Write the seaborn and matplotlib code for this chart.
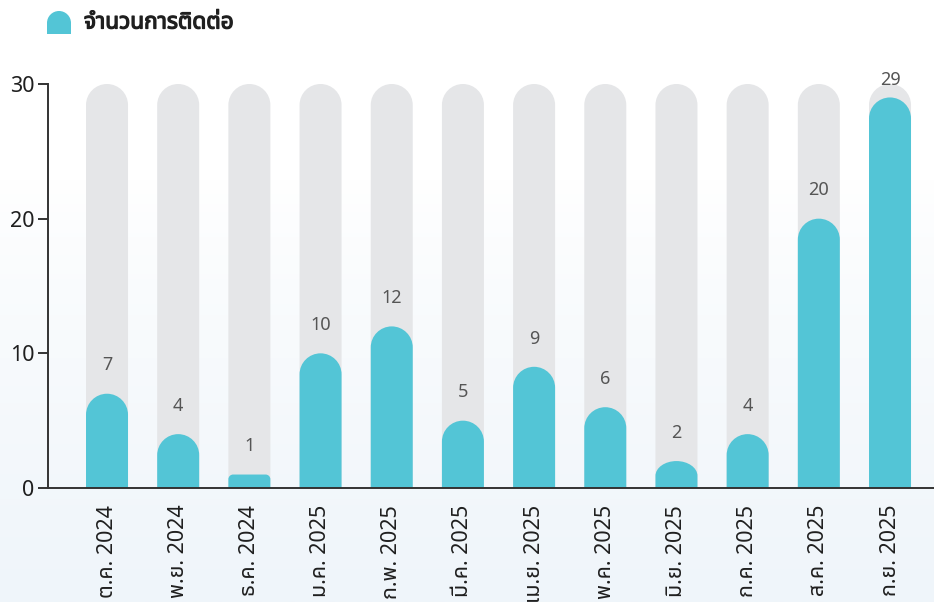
import numpy as np
import pandas as pd
import matplotlib
matplotlib.use("Agg")
import matplotlib.pyplot as plt
import matplotlib.patheffects as pe
from matplotlib import font_manager
from matplotlib.ft2font import FT2Font
from matplotlib.path import Path
from matplotlib.patches import PathPatch
from matplotlib.transforms import IdentityTransform
import seaborn as sns

# Monthly contact counts
months = ["ต.ค. 2024", "พ.ย. 2024", "ธ.ค. 2024", "ม.ค. 2025", "ก.พ. 2025", "มี.ค. 2025",
          "เม.ย. 2025", "พ.ค. 2025", "มิ.ย. 2025", "ก.ค. 2025", "ส.ค. 2025", "ก.ย. 2025"]
contacts = [7, 4, 1, 10, 12, 5, 9, 6, 2, 4, 20, 29]
y_max = 30
y_ticks = [0, 10, 20, 30]
series_name = "จำนวนการติดต่อ"

CYAN = "#53c5d6"
TRACK = "#e5e6e8"
INK = "#1f1f1f"


def pick_thai_font():
    """Return the first installed family that covers Thai script."""
    names = []
    for f in font_manager.fontManager.ttflist:
        try:
            cmap = FT2Font(f.fname).get_charmap()
        except Exception:
            continue
        if 0x0E08 in cmap and 0x0E33 in cmap:
            names.append(f.name)
    for pref in ("Noto Sans Thai", "Noto Sans Thai UI", "Sarabun", "Kanit", "Prompt"):
        if pref in names:
            return pref
    return names[0] if names else None


sns.set_theme(style="white")
thai = pick_thai_font()
families = ([thai] if thai else []) + ["Inter", "DejaVu Sans"]
plt.rcParams["font.family"] = families

W, H, DPI = 934, 602, 100
fig = plt.figure(figsize=(W / DPI, H / DPI), dpi=DPI)

# soft vertical gradient behind everything: white above, pale blue toward the bottom
bg = fig.add_axes([0, 0, 1, 1], zorder=-10)
top_c = np.array([1.0, 1.0, 1.0])
bot_c = np.array([0xef, 0xf5, 0xfa]) / 255
t = np.linspace(0, 1, 512)
t = np.clip((t - 0.3) / 0.7, 0, 1) ** 0.8
grad = top_c * (1 - t[:, None]) + bot_c * t[:, None]
bg.imshow(grad[:, None, :], aspect="auto", extent=[0, 1, 0, 1], interpolation="bilinear")
bg.set_axis_off()

ax_l, ax_r = 48 / W, 1.0
ax_b, ax_t = 1 - 488 / H, 1 - 84 / H
ax = fig.add_axes([ax_l, ax_b, ax_r - ax_l, ax_t - ax_b])
ax.patch.set_alpha(0)

df = pd.DataFrame({"month": months, "contacts": contacts, "track": [y_max] * len(months)})
bar_w = 0.59
sns.barplot(data=df, x="month", y="track", color=TRACK, width=bar_w, saturation=1, ax=ax)
sns.barplot(data=df, x="month", y="contacts", color=CYAN, width=bar_w, saturation=1, ax=ax)

x_lo = -0.829
x_hi = 11.618
ax.set_xlim(x_lo, x_hi)
ax.set_ylim(0, y_max)

# pixel scale of the data axes
ax_w_px = (ax_r - ax_l) * W
ax_h_px = (ax_t - ax_b) * H
px_x = ax_w_px / (x_hi - x_lo)
px_y = ax_h_px / y_max


def rounded_top(x0, w, h):
    """Path for a bar with a semicircular (in pixels) top."""
    rx = w / 2
    ry = rx * px_x / px_y
    if h < ry:
        scale = 0.35 * h / ry
        rx *= scale
        ry *= scale
    elif h < 1.6 * ry:
        ry = h * 0.55
    k = 0.5523
    x1 = x0 + w
    verts = [(x0, 0), (x0, h - ry),
             (x0, h - ry + k * ry), (x0 + rx - k * rx, h), (x0 + rx, h),
             (x1 - rx, h),
             (x1 - rx + k * rx, h), (x1, h - ry + k * ry), (x1, h - ry),
             (x1, 0), (x0, 0)]
    codes = [Path.MOVETO, Path.LINETO,
             Path.CURVE4, Path.CURVE4, Path.CURVE4,
             Path.LINETO,
             Path.CURVE4, Path.CURVE4, Path.CURVE4,
             Path.LINETO, Path.CLOSEPOLY]
    return Path(verts, codes)


rects = list(ax.patches)
for i, r in enumerate(rects):
    x0, w, h = r.get_x(), r.get_width(), r.get_height()
    fc = r.get_facecolor()
    r.remove()
    pp = PathPatch(rounded_top(x0, w, h), facecolor=fc, edgecolor="none",
                   zorder=2 if i < len(months) else 3, clip_on=False)
    ax.add_patch(pp)

# value labels above each bar
for i, v in enumerate(contacts):
    ax.text(i, min(v + 2.1, 30.3), str(v), ha="center", va="center",
            fontsize=13, color="#555555", zorder=4, clip_on=False)

ax.set_yticks(y_ticks)
ax.set_xlabel("")
ax.set_ylabel("")
for s in ("top", "right"):
    ax.spines[s].set_visible(False)
for s in ("left", "bottom"):
    ax.spines[s].set_color("#333333")
    ax.spines[s].set_linewidth(1.4)
    ax.spines[s].set_zorder(5)
ax.tick_params(axis="y", length=7, width=1.4, color="#333333", pad=3,
               labelsize=15.5, labelcolor=INK, left=True)
ax.tick_params(axis="x", length=0, pad=12, labelsize=15.5, labelcolor=INK)
for lab in ax.get_xticklabels():
    lab.set_rotation(90)
    lab.set_va("top")
    lab.set_ha("center")

# legend swatch with rounded top, drawn in pixel space
lx0, lx1, ly_top, ly_bot = 47, 71, H - 11, H - 34
sw = lx1 - lx0
r_ = sw / 2
k = 0.5523
verts = [(lx0, ly_bot), (lx0, ly_top - r_),
         (lx0, ly_top - r_ + k * r_), (lx0 + r_ - k * r_, ly_top), (lx0 + r_, ly_top),
         (lx1 - r_ + k * r_, ly_top), (lx1, ly_top - r_ + k * r_), (lx1, ly_top - r_),
         (lx1, ly_bot), (lx0, ly_bot)]
codes = [Path.MOVETO, Path.LINETO, Path.CURVE4, Path.CURVE4, Path.CURVE4,
         Path.CURVE4, Path.CURVE4, Path.CURVE4, Path.LINETO, Path.CLOSEPOLY]
fig.patches.append(PathPatch(Path(verts, codes), facecolor=CYAN, edgecolor="none",
                             transform=IdentityTransform(), figure=fig))
fig.text(84 / W, 1 - 23 / H, series_name, ha="left", va="center",
         fontsize=16.3, fontweight="bold", color=INK,
         path_effects=[pe.withStroke(linewidth=0.9, foreground=INK)])

fig.savefig("out.png", dpi=DPI)
